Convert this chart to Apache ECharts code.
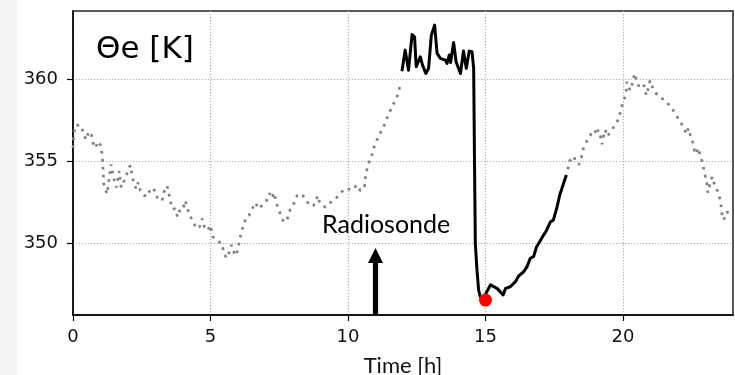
<!DOCTYPE html>
<html><head><meta charset="utf-8">
<script src="https://cdn.jsdelivr.net/npm/echarts@6/dist/echarts.min.js"></script>
<style>html,body{margin:0;padding:0;background:#fff}#c{width:735px;height:375px}</style>
</head><body><div id="c"></div>
<script>
// ---- data (time in hours, theta-e in K) ----
const dotTimeA = [0.0,0.03,0.1,0.3,0.39,0.48,0.57,0.67,0.73,0.81,0.91,1.03,1.08,1.12,1.24,1.31,1.39,1.47,1.58,1.68,1.75,1.9,2.0,2.08,2.2,2.3,2.37,2.45,2.59,2.75,2.8,3.0,3.08,3.24,3.3,3.42,3.54,3.6,3.72,3.8,3.9,4.0,4.08,4.24,4.36,4.48,4.6,4.7,4.8,4.9,5.0,5.08,5.27,5.42,5.48,5.58,5.68,5.76,5.85,5.93,6.0,6.06,6.12,6.2,6.3,6.4,6.51,6.63,6.75,6.87,7.03,7.15,7.24,7.3,7.42,7.54,7.66,7.78,7.9,8.06,8.15,8.33,8.42,8.63,8.75,8.9,8.98,9.17,9.3,9.48,9.6,9.72,9.9,10.02,10.15,10.33,10.45,10.6,10.63,10.67,10.75,10.85,10.93,11.03,11.15,11.27,11.38,11.5,11.6,11.66,11.75,11.84,11.9];
const dotValA = [355.8,356.7,357.2,357.15,356.6,356.3,356.8,356.6,356.1,355.8,356.2,355.9,354.9,353.6,353.0,353.9,354.8,354.0,353.4,354.4,353.4,353.95,354.4,354.75,353.75,353.3,353.7,353.2,352.9,352.9,353.35,353.2,352.7,352.6,353.1,353.5,352.6,352.1,352.1,351.6,352.1,352.1,352.6,351.7,351.35,350.9,351.0,351.5,350.85,350.8,351.1,350.4,350.15,349.96,349.45,349.1,349.45,349.9,349.45,349.25,349.7,350.2,350.65,351.1,351.6,351.7,352.07,352.47,352.1,352.3,352.57,353.04,352.74,353.08,352.33,351.8,351.3,351.4,352.07,352.5,352.9,353.0,352.74,352.27,352.3,352.9,352.43,352.2,352.4,352.63,352.8,353.04,353.34,353.3,353.24,353.55,353.2,353.44,353.95,354.35,354.86,355.26,355.78,356.2,356.64,356.99,357.45,357.9,358.35,358.5,358.75,359.2,359.68];

const solidTime = [11.96,12.08,12.2,12.33,12.42,12.48,12.63,12.71,12.83,12.93,13.03,13.15,13.24,13.36,13.54,13.6,13.68,13.73,13.84,13.93,14.09,14.2,14.3,14.41,14.51,14.57,14.6,14.63,14.69,14.75,14.81,14.9,15.0,15.18,15.42,15.64,15.73,15.9,16.09,16.2,16.39,16.51,16.63,16.75,16.85,16.97,17.11,17.21,17.36,17.47,17.6,17.7,17.94];
const solidVal = [360.47,361.75,360.53,362.7,362.56,360.74,361.34,360.84,360.33,360.64,362.66,363.27,361.55,361.25,361.14,360.94,361.45,361.0,362.22,361.04,360.33,361.7,360.64,361.69,361.65,360.64,355.0,350.0,348.38,347.16,346.75,346.6,346.9,347.47,347.26,346.86,347.26,347.36,347.67,348.0,348.27,348.58,349.09,349.2,349.76,350.1,350.5,350.75,351.3,351.42,352.2,352.94,354.15];

const dotTimeB = [17.99,18.06,18.13,18.2,18.32,18.4,18.49,18.56,18.68,18.83,18.97,19.03,19.1,19.17,19.24,19.3,19.36,19.43,19.5,19.56,19.72,19.85,19.92,19.98,20.08,20.12,20.14,20.2,20.27,20.37,20.42,20.48,20.57,20.66,20.75,20.8,20.87,20.93,20.99,21.09,21.21,21.39,21.6,21.75,21.9,22.06,22.2,22.3,22.38,22.42,22.47,22.55,22.6,22.66,22.73,22.8,22.88,22.94,23.0,23.06,23.08,23.15,23.24,23.3,23.36,23.45,23.53,23.57,23.6,23.66,23.78,23.85,23.95];
const dotValB = [354.5,355.0,355.1,355.3,354.86,354.8,355.26,355.78,356.2,356.63,356.9,356.6,356.9,356.6,356.02,356.6,356.9,356.5,356.4,356.83,357.2,357.6,358.1,358.5,358.95,359.36,359.82,359.5,359.3,359.9,360.33,360.0,359.56,359.65,359.7,359.2,359.0,359.6,359.9,359.4,359.1,358.85,358.57,358.27,357.9,357.43,357.09,356.64,357.0,356.8,356.4,356.08,355.6,355.43,355.8,355.4,354.96,354.5,354.0,353.54,353.08,353.2,354.05,353.7,353.55,353.1,352.67,352.22,351.78,351.42,351.92,351.8,351.6];

const xTicks = [0, 5, 10, 15, 20];
const yTicks = [350, 355, 360];
const xMin = 0, xMax = 24, yMin = 345.64, yMax = 364.13;

const launchTime = 15, launchVal = 346.55;      // red dot
const radiosondeTime = 11, arrowTipVal = 349.71; // arrow

function zip(t, v) { return t.map((x, i) => [x, v[i]]); }

const chart = echarts.init(document.getElementById('c'), null, { renderer: 'canvas' });

const labelFont = { fontFamily: 'DejaVu Sans', fontSize: 18, color: '#111' };
const gridLine = { show: true, lineStyle: { type: [1.2, 1.8], color: '#b0b0b0', width: 1.2 } };

chart.setOption({
  animation: false,
  backgroundColor: '#ffffff',
  grid: { left: 73, right: 2, top: 11, bottom: 60, show: true, borderColor: '#222', borderWidth: 1.5, backgroundColor: 'transparent', containLabel: false, outerBoundsMode: 'none' },
  xAxis: {
    type: 'value', min: xMin, max: xMax,
    axisLine: { show: true, lineStyle: { color: '#000', width: 1.5 } },
    axisTick: { show: true, length: 6, customValues: xTicks, lineStyle: { color: '#000', width: 1.2 } },
    axisLabel: Object.assign({ margin: 13, customValues: xTicks }, labelFont),
    splitLine: gridLine,
    name: 'Time [h]', nameLocation: 'middle', nameGap: 40,
    nameTextStyle: { fontFamily: 'Lato', fontSize: 22, color: '#111' }
  },
  yAxis: {
    type: 'value', min: yMin, max: yMax,
    axisLine: { show: true, lineStyle: { color: '#000', width: 1.5 } },
    axisTick: { show: true, length: 6, customValues: yTicks, lineStyle: { color: '#000', width: 1.2 } },
    axisLabel: Object.assign({ margin: 15, customValues: yTicks }, labelFont),
    splitLine: gridLine
  },
  graphic: [
    { type: 'rect', left: 0, top: 0, shape: { width: 17, height: 375 }, style: { fill: '#f2f3f3' }, z: -10 },
    { type: 'text', x: 96, y: 50, style: { text: 'Θe [K]', font: '31px "DejaVu Sans"', fill: '#000', textVerticalAlign: 'middle' }, z: 10 },
    { type: 'text', x: 322, y: 225, style: { text: 'Radiosonde', font: '25px Lato', fill: '#000', textVerticalAlign: 'middle' }, z: 10 }
  ],
  series: [
    { type: 'line', data: zip(dotTimeA, dotValA), showSymbol: false, symbol: 'none',
      lineStyle: { color: '#808080', width: 2.7, type: [2.7, 5.3], cap: 'butt' }, z: 2 },
    { type: 'line', data: zip(dotTimeB, dotValB), showSymbol: false, symbol: 'none',
      lineStyle: { color: '#808080', width: 2.7, type: [2.7, 5.3], cap: 'butt' }, z: 2 },
    { type: 'line', data: zip(solidTime, solidVal), showSymbol: false, symbol: 'none',
      lineStyle: { color: '#000', width: 3, join: 'round' }, z: 3 },
    { type: 'custom', clip: false, z: 4,
      data: [[radiosondeTime, yMin, arrowTipVal]],
      encode: { x: 0, y: 1 },
      renderItem: function (params, api) {
        const base = api.coord([api.value(0), api.value(1)]);
        const tip = api.coord([api.value(0), api.value(2)]);
        const headLen = 15, headHalf = 7.5, shaftHalf = 2.6;
        return { type: 'group', children: [
          { type: 'rect', shape: { x: base[0] - shaftHalf, y: tip[1] + headLen - 1, width: shaftHalf * 2, height: base[1] - tip[1] - headLen + 1 }, style: { fill: '#000' } },
          { type: 'polygon', shape: { points: [[tip[0], tip[1]], [tip[0] - headHalf, tip[1] + headLen], [tip[0] + headHalf, tip[1] + headLen]] }, style: { fill: '#000' } }
        ] };
      }
    },
    { type: 'scatter', data: [[launchTime, launchVal]], symbolSize: 13, itemStyle: { color: '#ff0000', opacity: 1 }, z: 5 }
  ]
});
</script>
</body></html>
